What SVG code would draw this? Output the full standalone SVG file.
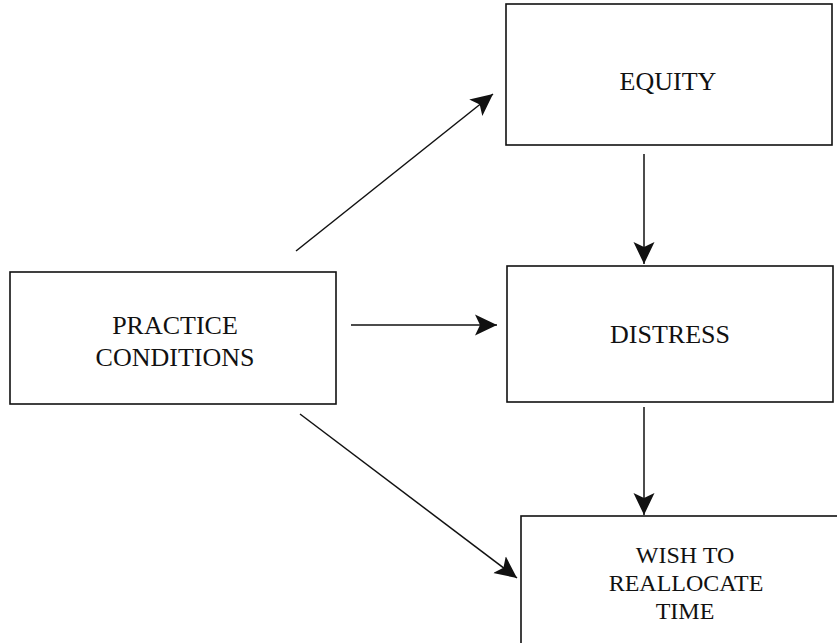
<svg xmlns="http://www.w3.org/2000/svg" width="837" height="643" viewBox="0 0 837 643">
  <style>
    .box { fill: #ffffff; stroke: #111111; stroke-width: 1.6; }
    .label { font-family: "Liberation Serif", "Times New Roman", serif; font-size: 26px; fill: #111111; text-anchor: middle; }
    .tight { font-size: 24px; }
    .edge { fill: none; stroke: #111111; stroke-width: 1.5; }
  </style>
  <defs>
    <marker id="arrow" markerUnits="userSpaceOnUse" markerWidth="24" markerHeight="24" viewBox="0 0 24 24" refX="22" refY="12" orient="auto">
      <path d="M0,1.5 L22,12 L0,22.5 L5,12 Z" fill="#111111"/>
    </marker>
  </defs>
  <rect width="837" height="643" fill="#ffffff"/>

  <g id="connectors">
    <line class="edge" x1="296" y1="251" x2="493" y2="94" marker-end="url(#arrow)"/>
    <line class="edge" x1="351" y1="325" x2="497" y2="325" marker-end="url(#arrow)"/>
    <line class="edge" x1="300" y1="414" x2="517" y2="578" marker-end="url(#arrow)"/>
    <line class="edge" x1="644" y1="154" x2="644" y2="264" marker-end="url(#arrow)"/>
    <line class="edge" x1="644" y1="407" x2="644" y2="515" marker-end="url(#arrow)"/>
  </g>

  <g id="practice-conditions">
    <rect class="box" x="10" y="272" width="326" height="132"/>
    <text class="label" x="175" y="334">PRACTICE</text>
    <text class="label" x="175" y="366">CONDITIONS</text>
  </g>

  <g id="equity">
    <rect class="box" x="506" y="4" width="326" height="141"/>
    <text class="label" x="668" y="90">EQUITY</text>
  </g>

  <g id="distress">
    <rect class="box" x="507" y="266" width="326" height="136"/>
    <text class="label" x="670" y="343">DISTRESS</text>
  </g>

  <g id="wish-to-reallocate-time">
    <rect class="box" x="521" y="516" width="330" height="140"/>
    <text class="label tight" x="685" y="563">WISH TO</text>
    <text class="label tight" x="686" y="591">REALLOCATE</text>
    <text class="label tight" x="685" y="619">TIME</text>
  </g>
</svg>
